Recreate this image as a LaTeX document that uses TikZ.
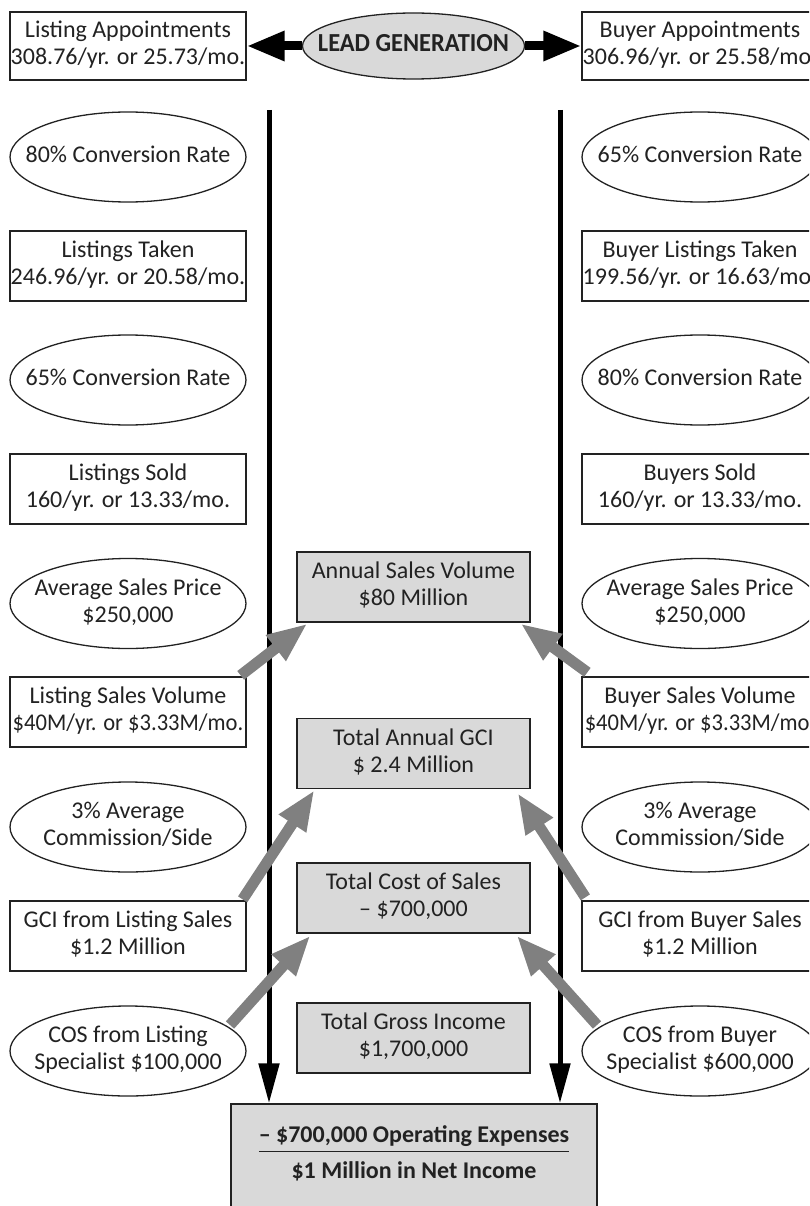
\documentclass[tikz,border=0pt]{standalone}
\usepackage{fontspec}
\setmainfont{Carlito}
\usetikzlibrary{shapes.geometric,arrows.meta,calc}
\definecolor{boxgray}{HTML}{D9D9D9}
\definecolor{arrgray}{HTML}{808080}
\definecolor{ink}{HTML}{222222}
\newcommand{\mytxt}[1]{\makebox[0pt]{\begin{tabular}{@{}c@{}}#1\end{tabular}}}
\newcommand{\narrow}[1]{\scalebox{0.94}[1]{#1}}
\begin{document}
\begin{tikzpicture}[x=1pt,y=-1pt,
  font=\fontsize{24}{27}\selectfont, text=ink,
  box/.style={draw=ink,line width=1.3pt,fill=white,rectangle,minimum width=236pt,minimum height=70pt,inner sep=0pt},
  oval/.style={draw=ink,line width=1.3pt,fill=white,ellipse,minimum width=236pt,minimum height=90pt,inner sep=0pt},
  cbox/.style={box,fill=boxgray,minimum width=233pt},
  blackarrow/.style={draw=black,line width=9pt,-{Triangle[length=38pt,width=28pt]}},
  vline/.style={draw=black,line width=5pt,-{Triangle[length=40pt,width=20pt]}},
  grayarrow/.style={draw=arrgray,line width=11pt,-{Triangle[length=40pt,width=30pt]}}]
\useasboundingbox (0,0) rectangle (809,1206);
\clip (0,0) rectangle (809,1206);
% top row
\node[box,minimum height=68pt] (lap) at (128,46) {\mytxt{Listing Appointments\\308.76/yr. or 25.73/mo.}};
\node[box,minimum height=68pt] (bap) at (700,46) {\mytxt{Buyer Appointments\\306.96/yr. or 25.58/mo.}};
\node[oval,fill=boxgray,minimum width=222pt,minimum height=66pt] (lead) at (413.5,46) {\mytxt{\fontsize{26}{27}\selectfont\bfseries\narrow{LEAD GENERATION}}};
% left column
\node[oval] (lc1) at (128,157) {\mytxt{80\% Conversion Rate}};
\node[box] (lt) at (128,266) {\mytxt{Listings Taken\\246.96/yr. or 20.58/mo.}};
\node[oval] (lc2) at (128,380) {\mytxt{65\% Conversion Rate}};
\node[box] (ls) at (128,489) {\mytxt{Listings Sold\\160/yr. or 13.33/mo.}};
\node[oval] (lasp) at (128,603.5) {\mytxt{Average Sales Price\\\$250,000}};
\node[box] (lsv) at (128,712) {\mytxt{Listing Sales Volume\\\narrow{\$40M/yr. or \$3.33M/mo.}}};
\node[oval] (lcom) at (128,827) {\mytxt{3\% Average\\Commission/Side}};
\node[box] (gls) at (128,936) {\mytxt{GCI from Listing Sales\\\$1.2 Million}};
\node[oval] (cosl) at (128,1051) {\mytxt{COS from Listing\\Specialist \$100,000}};
% right column
\node[oval] (rc1) at (700,157) {\mytxt{65\% Conversion Rate}};
\node[box] (bt) at (700,266) {\mytxt{Buyer Listings Taken\\199.56/yr. or 16.63/mo.}};
\node[oval] (rc2) at (700,380) {\mytxt{80\% Conversion Rate}};
\node[box] (bs) at (700,489) {\mytxt{Buyers Sold\\160/yr. or 13.33/mo.}};
\node[oval] (rasp) at (700,603.5) {\mytxt{Average Sales Price\\\$250,000}};
\node[box] (bsv) at (700,712) {\mytxt{Buyer Sales Volume\\\narrow{\$40M/yr. or \$3.33M/mo.}}};
\node[oval] (rcom) at (700,827) {\mytxt{3\% Average\\Commission/Side}};
\node[box] (gbs) at (700,936) {\mytxt{GCI from Buyer Sales\\\$1.2 Million}};
\node[oval] (cosb) at (700,1051) {\mytxt{COS from Buyer\\Specialist \$600,000}};
% center column
\node[cbox] (asv) at (413.5,587) {\mytxt{Annual Sales Volume\\\$80 Million}};
\node[cbox] (tag) at (413.5,753.5) {\mytxt{Total Annual GCI\\\$ 2.4 Million}};
\node[cbox] (tcs) at (413.5,898) {\mytxt{Total Cost of Sales\\– \$700,000}};
\node[cbox] (tgi) at (413.5,1038) {\mytxt{Total Gross Income\\\$1,700,000}};
\node[box,fill=boxgray,minimum width=366pt,minimum height=130pt] (net) at (414,1169) {};
\node[inner sep=0pt] (nettxt) at (414,1155) {\setlength{\arrayrulewidth}{1.3pt}\begin{tabular}{@{}c@{}}\textbf{– \$700,000 Operating Expenses}\\\hline\rule{0pt}{26pt}\textbf{\$1 Million in Net Income}\end{tabular}};
% top arrows
\draw[blackarrow] (lead.west) -- (lap.east);
\draw[blackarrow] (lead.east) -- (bap.west);
% vertical lines
\coordinate (tl) at (269,110);
\coordinate (tr) at (560,110);
\draw[vline] (tl) -- (tl |- net.north);
\draw[vline] (tr) -- (tr |- net.north);
% gray arrows
\draw[grayarrow] ($(lsv.north east)+(-6,-1)$) -- ($(asv.south west)+(11,1)$);
\draw[grayarrow] ($(gls.north east)+(-4,-1)$) -- ($(tag.south west)+(18,1)$);
\draw[grayarrow] ($(cosl.center)+(102,-26)$) -- ($(tcs.south west)+(14,2)$);
\draw[grayarrow] ($(bsv.north west)+(6,-4)$) -- ($(asv.south east)+(-10,1)$);
\draw[grayarrow] ($(gbs.north west)+(4,-3)$) -- ($(tag.south east)+(-13,4)$);
\draw[grayarrow] ($(cosb.center)+(-103,-26)$) -- ($(tcs.south east)+(-14,2)$);
\end{tikzpicture}
\end{document}
